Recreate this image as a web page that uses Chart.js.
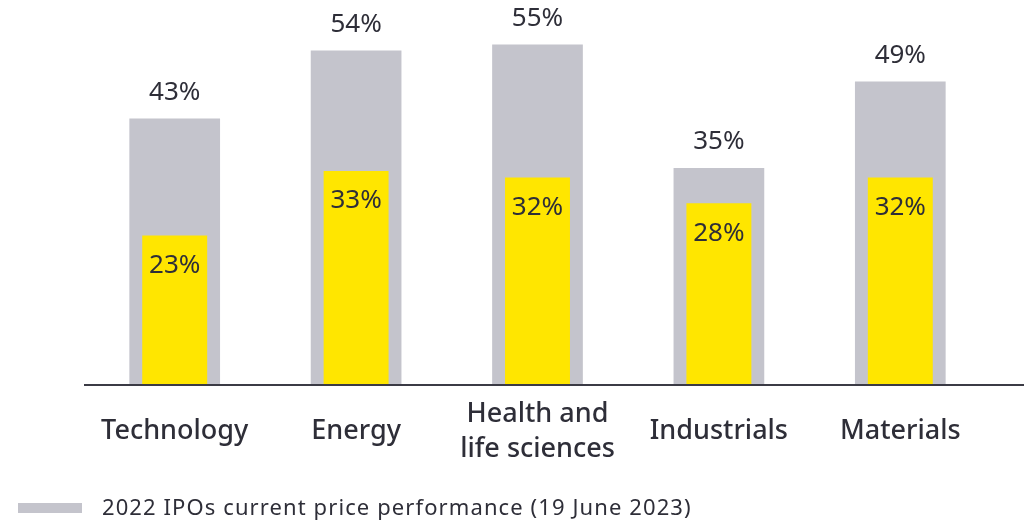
<!DOCTYPE html>
<html>
<head>
<meta charset="utf-8">
<script src="https://cdn.jsdelivr.net/npm/chart.js@4/dist/chart.umd.min.js"></script>
<style>
  html, body { margin: 0; padding: 0; background: #fff; }
  #wrap { width: 1024px; height: 521px; position: relative; }
</style>
</head>
<body>
<div id="wrap"><canvas id="ipo-chart"></canvas></div>
<script>
let categories = ['Technology', 'Energy', ['Health and', 'life sciences'], 'Industrials', 'Materials'];
let currentPerf = [43, 54, 55, 35, 49];
let firstDayPerf = [23, 33, 32, 28, 32];
let currentLabel = '2022 IPOs current price performance (19 June 2023)';
let firstDayLabel = '2022 IPOs first-day price performance';

const GREY = '#c4c4cc';
const YELLOW = '#ffe600';
const INK = '#2e2e38';

// value labels, baseline and legend drawn by hand
let extras = {
  id: 'extras',
  afterDatasetsDraw(chart) {
    let ctx = chart.ctx;
    let area = chart.chartArea;
    ctx.save();
    ctx.strokeStyle = '#3b3b45';
    ctx.lineWidth = 2;
    ctx.beginPath();
    ctx.moveTo(area.left, area.bottom + 1);
    ctx.lineTo(chart.width, area.bottom + 1);
    ctx.stroke();

    ctx.font = '26px "Noto Sans"';
    ctx.fillStyle = INK;
    ctx.textAlign = 'center';
    ctx.textBaseline = 'middle';
    chart.getDatasetMeta(0).data.forEach((bar, i) => {
      ctx.fillText(currentPerf[i] + '%', bar.x, bar.y - 26);
    });
    chart.getDatasetMeta(1).data.forEach((bar, i) => {
      ctx.fillText(firstDayPerf[i] + '%', bar.x, bar.y + 30);
    });

    // legend (only the first entry is inside the picture)
    let ds = chart.data.datasets[0];
    ctx.fillStyle = ds.backgroundColor;
    ctx.fillRect(18, 503, 64, 10);
    ctx.fillStyle = INK;
    ctx.textAlign = 'left';
    ctx.font = '22px "Noto Sans"';
    ctx.letterSpacing = '1.1px';
    ctx.fillText(ds.label, 102, 509);
    ctx.restore();
  }
};

new Chart(document.getElementById('ipo-chart').getContext('2d'), {
  type: 'bar',
  data: {
    labels: categories,
    datasets: [{
      label: currentLabel,
      data: currentPerf,
      backgroundColor: GREY,
      yAxisID: 'y',
      grouped: false,
      order: 2,
      categoryPercentage: 1,
      barPercentage: 0.5
    }, {
      label: firstDayLabel,
      data: firstDayPerf,
      backgroundColor: YELLOW,
      yAxisID: 'y2',
      grouped: false,
      order: 1,
      categoryPercentage: 1,
      barPercentage: 0.358
    }]
  },
  options: {
    responsive: true,
    maintainAspectRatio: false,
    animation: {
      duration: 0
    },
    layout: {
      padding: { left: 84, right: 33, top: 0, bottom: 7 }
    },
    scales: {
      x: {
        grid: { display: false, drawTicks: false },
        border: { display: false },
        ticks: {
          color: INK,
          padding: 30,
          maxRotation: 0,
          autoSkip: false,
          crossAlign: 'center',
          font: { family: 'Noto Sans', size: 27, weight: '500', lineHeight: '35px' }
        }
      },
      y: {
        display: false,
        min: 0,
        max: 62.2
      },
      y2: {
        display: false,
        min: 0,
        max: 59.5
      }
    },
    plugins: {
      legend: { display: false },
      tooltip: { enabled: false }
    }
  },
  plugins: [extras]
});
</script>
</body>
</html>
